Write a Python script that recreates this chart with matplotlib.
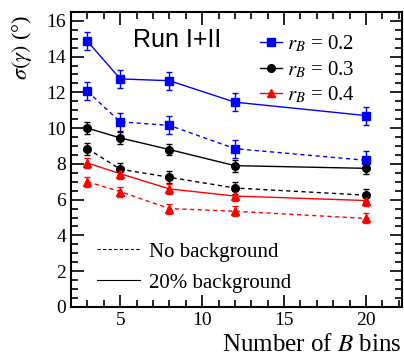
import matplotlib
matplotlib.use('Agg')
import matplotlib.pyplot as plt
from matplotlib.lines import Line2D
from matplotlib.ticker import MultipleLocator

plt.rcParams['font.family'] = ['Liberation Serif', 'DejaVu Serif']
plt.rcParams['mathtext.fontset'] = 'stix'

# Data
nbins = [3, 5, 8, 12, 20]

rb02_bkg = [14.85, 12.75, 12.65, 11.45, 10.7]
rb02_nobkg = [12.05, 10.35, 10.15, 8.85, 8.2]
rb03_bkg = [10.0, 9.45, 8.8, 7.9, 7.75]
rb03_nobkg = [8.85, 7.7, 7.25, 6.65, 6.25]
rb04_bkg = [8.05, 7.45, 6.6, 6.2, 5.95]
rb04_nobkg = [7.0, 6.45, 5.5, 5.35, 4.95]

err02 = 0.5
err03 = 0.33
err04 = 0.28

fig = plt.figure(figsize=(4.04, 3.59), dpi=100)
ax = fig.add_axes([0.176, 0.145, 0.819, 0.822])

series = [
    (rb02_bkg, rb02_nobkg, err02, 'blue', 's', 6),
    (rb03_bkg, rb03_nobkg, err03, 'black', 'o', 5.5),
    (rb04_bkg, rb04_nobkg, err04, 'red', '^', 6),
]
for bkg, nobkg, err, col, mk, ms in series:
    ax.errorbar(nbins, bkg, yerr=err, color=col, marker=mk, ms=ms, lw=1,
                elinewidth=1, capsize=2.5, ls='-')
    ax.errorbar(nbins, nobkg, yerr=err, color=col, marker=mk, ms=ms, lw=1,
                elinewidth=1, capsize=2.5, ls=(0, (3, 2.5)))

ax.set_xlim(2, 22.2)
ax.set_ylim(0, 16.5)
ax.xaxis.set_major_locator(MultipleLocator(5))
ax.xaxis.set_minor_locator(MultipleLocator(1))
ax.yaxis.set_major_locator(MultipleLocator(2))
ax.yaxis.set_minor_locator(MultipleLocator(0.5))
ax.tick_params(which='both', direction='in', top=True, right=True, labelsize=14, width=1.2)
ax.tick_params(which='major', length=9)
ax.tick_params(which='minor', length=5)
for sp in ax.spines.values():
    sp.set_linewidth(1.5)

ax.text(0.187, 0.905, 'Run I+II', transform=ax.transAxes, fontsize=18,
        family=['Liberation Sans', 'DejaVu Sans'], va='center')

h1 = [Line2D([], [], color='blue', marker='s', ms=6, lw=1),
      Line2D([], [], color='black', marker='o', ms=5.5, lw=1),
      Line2D([], [], color='red', marker='^', ms=6, lw=1)]
leg1 = ax.legend(h1, [r'$r_B$ = 0.2', r'$r_B$ = 0.3', r'$r_B$ = 0.4'],
                 loc='upper left', bbox_to_anchor=(0.571, 0.925), frameon=False,
                 fontsize=15, handlelength=1.05, handletextpad=0.25, labelspacing=0.22,
                 borderaxespad=0, borderpad=0)
ax.add_artist(leg1)

h2 = [Line2D([], [], color='black', lw=0.8, ls=(0, (3, 2))),
      Line2D([], [], color='black', lw=0.8, ls='-')]
ax.legend(h2, ['No background', '20% background'], loc='upper left',
          bbox_to_anchor=(0.079, 0.22), frameon=False, fontsize=15,
          handlelength=2.05, handletextpad=0.43, labelspacing=0.55, borderaxespad=0,
          borderpad=0)

fig.text(0.055, 0.96, r'$\sigma(\gamma)$ (°)', rotation=90, fontsize=16,
         ha='center', va='top')
fig.text(0.993, 0.04, r'Number of $B$ bins', fontsize=18, ha='right', va='center')

fig.savefig('out.png', dpi=100)
